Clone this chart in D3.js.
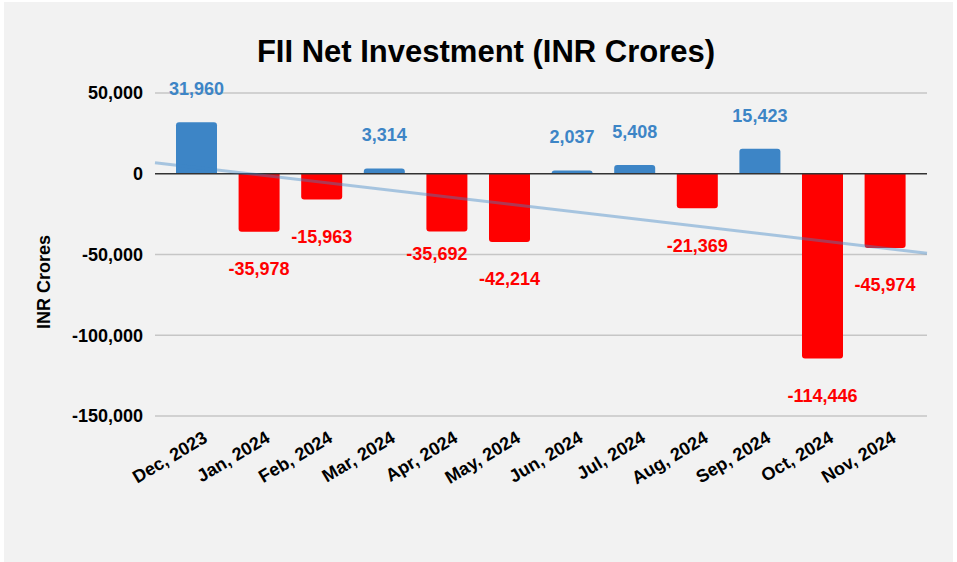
<!DOCTYPE html>
<html>
<head>
<meta charset="utf-8">
<script src="https://cdn.jsdelivr.net/npm/d3@7/dist/d3.min.js"></script>
<style>
  html, body { margin: 0; padding: 0; background: #ffffff; }
  svg { display: block; }
  text { font-family: Arial, "Liberation Sans", sans-serif; }
</style>
</head>
<body>
<svg id="chart" width="957" height="562"></svg>
<script>
// Monthly FII net investment, INR crores
const months = ["Dec, 2023", "Jan, 2024", "Feb, 2024", "Mar, 2024", "Apr, 2024", "May, 2024",
                "Jun, 2024", "Jul, 2024", "Aug, 2024", "Sep, 2024", "Oct, 2024", "Nov, 2024"];
const netInvestment = [31960, -35978, -15963, 3314, -35692, -42214, 2037, 5408, -21369, 15423, -114446, -45974];
const yTicks = [50000, 0, -50000, -100000, -150000];

const titleText = "FII Net Investment (INR Crores)";
const yAxisTitle = "INR Crores";

const W = 957, H = 562;
const svg = d3.select("#chart");

// panel background
svg.append("rect").attr("x", 4).attr("y", 2).attr("width", 949).attr("height", H - 2)
  .attr("fill", "#f2f2f2");

const gridLeft = 155, gridRight = 927;
const x = d3.scaleBand().domain(months).range([165.2, 916.4])
  .paddingInner(0.345).paddingOuter(0.1725);
const y = d3.scaleLinear().domain([-150000, 50000]).range([416, 93]);

// thousands separators with a plain hyphen for negatives
const fmt = v => d3.format(",")(v).replace("\u2212", "-");
const posColor = "#3d85c6", negColor = "#ff0000";

// title
svg.append("text").attr("x", 486).attr("y", 62).attr("text-anchor", "middle")
  .attr("font-size", 31).attr("font-weight", "bold").attr("fill", "#000").text(titleText);

// gridlines
svg.append("g").selectAll("line").data(yTicks.filter(t => t !== 0)).join("line")
  .attr("x1", gridLeft).attr("x2", gridRight)
  .attr("y1", d => y(d)).attr("y2", d => y(d))
  .attr("stroke", "#c6c6c6").attr("stroke-width", 1.5);

// y tick labels
const yAxis = d3.axisLeft(y).tickValues(yTicks).tickFormat(fmt).tickSize(0).tickPadding(0);
const yg = svg.append("g").attr("transform", `translate(143,0)`).call(yAxis);
yg.select(".domain").remove();
yg.selectAll("text").attr("font-size", 18).attr("font-weight", "bold").attr("fill", "#000")
  .attr("font-family", "Arial, 'Liberation Sans', sans-serif");

// y axis title
svg.append("text").attr("transform", `translate(50,282) rotate(-90)`).attr("text-anchor", "middle")
  .attr("font-size", 18).attr("font-weight", "bold").attr("fill", "#000").text(yAxisTitle);

// bars with rounded outer corners
const r = 3;
function barPath(d, i) {
  const x0 = x(months[i]), w = x.bandwidth();
  const y0 = y(0), y1 = y(d);
  const rr = Math.min(r, Math.abs(y1 - y0));
  if (d >= 0) {
    return `M${x0},${y0} V${y1 + rr} Q${x0},${y1} ${x0 + rr},${y1} H${x0 + w - rr} Q${x0 + w},${y1} ${x0 + w},${y1 + rr} V${y0} Z`;
  }
  return `M${x0},${y0} V${y1 - rr} Q${x0},${y1} ${x0 + rr},${y1} H${x0 + w - rr} Q${x0 + w},${y1} ${x0 + w},${y1 - rr} V${y0} Z`;
}
svg.append("g").selectAll("path").data(netInvestment).join("path")
  .attr("d", barPath)
  .attr("fill", d => d >= 0 ? posColor : negColor);

// zero line
svg.append("line").attr("x1", gridLeft).attr("x2", gridRight)
  .attr("y1", y(0)).attr("y2", y(0)).attr("stroke", "#333").attr("stroke-width", 1.5);

// linear trendline (least squares over month index)
const n = netInvestment.length;
const xm = d3.mean(d3.range(n)), ym = d3.mean(netInvestment);
const slope = d3.sum(netInvestment, (v, i) => (i - xm) * (v - ym)) / d3.sum(d3.range(n), i => (i - xm) ** 2);
const intercept = ym - slope * xm;
const c0 = x(months[0]) + x.bandwidth() / 2;
const idxAt = px => (px - c0) / x.step();
const trend = [gridLeft, gridRight].map(px => [px, y(intercept + slope * idxAt(px))]);
svg.append("path").attr("d", d3.line()(trend))
  .attr("stroke", posColor).attr("stroke-opacity", 0.42).attr("stroke-width", 3).attr("fill", "none");

// value labels: above positive bars, below negative ones
const labelFont = 18;
const labels = netInvestment.map((d, i) => ({
  v: d,
  cx: x(months[i]) + x.bandwidth() / 2,
  base: d >= 0 ? y(d) - 27 : y(d) + 43.5,
  w: fmt(d).length * labelFont * 0.53
}));
// when a label would crowd its right-hand neighbour, lift it and slide it left
for (let i = 0; i < labels.length - 1; i++) {
  const a = labels[i], b = labels[i + 1];
  const gapX = (b.cx - b.w / 2) - (a.cx + a.w / 2);
  if (gapX < 4 && Math.abs(a.base - b.base) < labelFont) {
    a.cx -= 10;
    a.base -= 15;
  }
}
svg.append("g").selectAll("text").data(labels).join("text")
  .attr("x", d => d.cx)
  .attr("y", d => d.base)
  .attr("text-anchor", "middle").attr("font-size", labelFont).attr("font-weight", "bold")
  .attr("fill", d => d.v >= 0 ? posColor : negColor)
  .text(d => fmt(d.v));

// x tick labels, slanted
svg.append("g").selectAll("text").data(months).join("text")
  .attr("transform", d => `translate(${x(d) + x.bandwidth() / 2 + 12},441) rotate(-31)`)
  .attr("text-anchor", "end").attr("font-size", 18).attr("font-weight", "bold").attr("fill", "#000")
  .text(d => d);
</script>
</body>
</html>
